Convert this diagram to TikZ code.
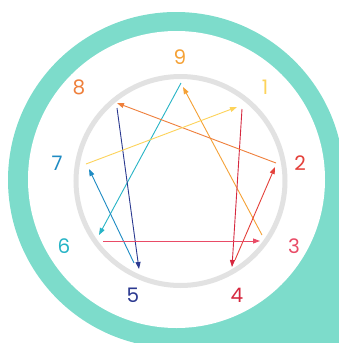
\documentclass[tikz,border=0pt]{standalone}
\usepackage{fontspec}
\setmainfont{Poppins}
\usetikzlibrary{arrows.meta}
\definecolor{teal1}{HTML}{7DDCCB}
\definecolor{ringgray}{HTML}{E2E2E2}
\definecolor{c9}{HTML}{F5A135}
\definecolor{c1}{HTML}{FDD35A}
\definecolor{c2}{HTML}{E4413B}
\definecolor{c3}{HTML}{E94B66}
\definecolor{c4}{HTML}{D6283F}
\definecolor{c5}{HTML}{2B3990}
\definecolor{c6}{HTML}{27B4C6}
\definecolor{c7}{HTML}{1E8BC3}
\definecolor{c8}{HTML}{EF7F3B}
\tikzset{
  num/.style={font=\fontsize{20}{24}\selectfont},
  link/.style={line width=0.9pt,-{Triangle[length=7pt,width=5pt]}}
}
\begin{document}
\begin{tikzpicture}[x=1pt,y=-1pt]
  \useasboundingbox (0,0) rectangle (339,343);
  % background bubble
  \begin{scope}
    \clip (0,0) rectangle (339,343);
    \fill[teal1] (176,180) circle[radius=168];
    \fill[teal1] (176,180) rectangle (344,348);
  \end{scope}
  \fill[white] (176.5,179.5) circle[radius=148.5];
  \draw[ringgray,line width=5pt] (180.5,181) circle[radius=104.5];
  % labels
  \node[num,text=c9] (n9) at (180,57) {9};
  \node[num,text=c1] (n1) at (265,87) {1};
  \node[num,text=c2] (n2) at (300,163) {2};
  \node[num,text=c3] (n3) at (294,246) {3};
  \node[num,text=c4] (n4) at (237,295) {4};
  \node[num,text=c5] (n5) at (133,295) {5};
  \node[num,text=c6] (n6) at (64,246) {6};
  \node[num,text=c7] (n7) at (57,163) {7};
  \node[num,text=c8] (n8) at (79,87) {8};
  % ends of the lines
  \coordinate (v9a) at (181,83);  \coordinate (v9b) at (183,87);
  \coordinate (v1a) at (242,109); \coordinate (v1b) at (237,107);
  \coordinate (v2a) at (276,163); \coordinate (v2b) at (275,167);
  \coordinate (v3a) at (262,235); \coordinate (v3b) at (260,241);
  \coordinate (v4a) at (235,260); \coordinate (v4b) at (232,267);
  \coordinate (v5a) at (134,263); \coordinate (v5b) at (139,269);
  \coordinate (v6a) at (103,241); \coordinate (v6b) at (99,235);
  \coordinate (v7a) at (86,164);  \coordinate (v7b) at (89,169);
  \coordinate (v8a) at (117,108); \coordinate (v8b) at (117,103);
  % arrows
  \draw[link,c6] (v9a) -- (v6b);
  \draw[link,c9] (v3a) -- (v9b);
  \draw[link,c4] (v1a) -- (v4b);
  \draw[link,c2] (v4a) -- (v2b);
  \draw[link,c8] (v2a) -- (v8b);
  \draw[link,c5] (v8a) -- (v5b);
  \draw[link,c7] (v5a) -- (v7b);
  \draw[link,c1] (v7a) -- (v1b);
  \draw[link,c3] (v6a) -- (v3b);
\end{tikzpicture}
\end{document}
